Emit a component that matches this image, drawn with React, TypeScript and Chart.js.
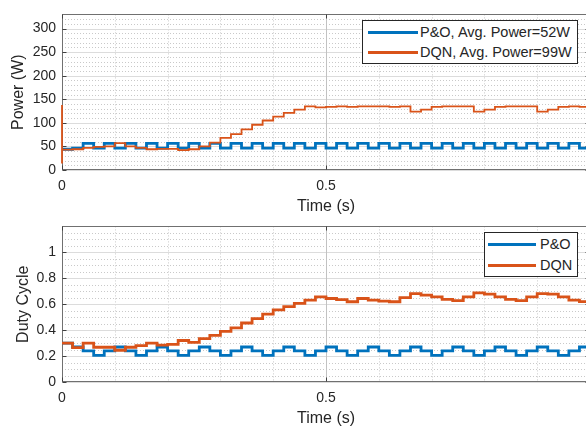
import React, { useEffect, useRef } from "react";
import { Chart, registerables } from "chart.js";

Chart.register(...registerables);

// ---------------- data ----------------
const stepTimes = [0, 0.02, 0.04, 0.06, 0.08, 0.1, 0.12, 0.14, 0.16, 0.18, 0.2, 0.22, 0.24, 0.26, 0.28, 0.3, 0.32, 0.34, 0.36, 0.38, 0.4, 0.42, 0.44, 0.46, 0.48, 0.5, 0.52, 0.54, 0.56, 0.58, 0.6, 0.62, 0.64, 0.66, 0.68, 0.7, 0.72, 0.74, 0.76, 0.78, 0.8, 0.82, 0.84, 0.86, 0.88, 0.9, 0.92, 0.94, 0.96, 0.98, 1.0];

const poPower = [44, 46.5, 56.5, 46.5, 56.5, 46.5, 56.5, 46.5, 56.5, 46.5,
  56.5, 46.5, 56.5, 46.5, 56.5, 46.5, 56.5, 46.5, 56.5, 46.5,
  56.5, 46.5, 56.5, 46.5, 56.5, 46.5, 56.5, 46.5, 56.5, 46.5,
  56.5, 46.5, 56.5, 46.5, 56.5, 46.5, 56.5, 46.5, 56.5, 46.5,
  56.5, 46.5, 56.5, 46.5, 56.5, 46.5, 56.5, 46.5, 56.5, 46.5,
  46.5];

const dqnPowerStartTransient = [14, 138];
const dqnPower = [43, 44, 47, 49, 50, 57, 50, 47, 44, 45,
  45, 42, 44, 50, 58, 68, 76, 86, 96, 105,
  113, 121, 128, 135, 133, 134, 135, 134, 135, 135,
  135, 134, 135, 124, 128, 134, 135, 135, 135, 124,
  128, 134, 135, 135, 135, 124, 128, 134, 135, 134,
  134];

const poDuty = [0.30, 0.27, 0.24, 0.205, 0.24, 0.27, 0.24, 0.205, 0.24, 0.27,
  0.24, 0.205, 0.24, 0.27, 0.24, 0.205, 0.24, 0.27, 0.24, 0.205,
  0.24, 0.27, 0.24, 0.205, 0.24, 0.27, 0.24, 0.205, 0.24, 0.27,
  0.24, 0.205, 0.24, 0.27, 0.24, 0.205, 0.24, 0.27, 0.24, 0.205,
  0.24, 0.27, 0.24, 0.205, 0.24, 0.27, 0.24, 0.205, 0.24, 0.27,
  0.27];

const dqnDuty = [0.30, 0.265, 0.30, 0.268, 0.268, 0.245, 0.268, 0.28, 0.30, 0.285,
  0.29, 0.32, 0.305, 0.335, 0.36, 0.39, 0.417, 0.455, 0.488, 0.523,
  0.556, 0.581, 0.606, 0.632, 0.657, 0.644, 0.635, 0.619, 0.644, 0.632,
  0.624, 0.619, 0.65, 0.682, 0.67, 0.657, 0.637, 0.627, 0.657, 0.687,
  0.677, 0.657, 0.637, 0.627, 0.657, 0.682, 0.677, 0.657, 0.632, 0.62,
  0.62];

const xTickLabels = ["0", "0.5", "1"];
const powerTickLabels = ["0", "50", "100", "150", "200", "250", "300"];
const dutyTickLabels = ["0", "0.2", "0.4", "0.6", "0.8", "1"];
const seriesNames = ["P&O", "DQN"];
const powerLegendLabels = ["P&O, Avg. Power=52W", "DQN, Avg. Power=99W"];
const dutyLegendLabels = ["P&O", "DQN"];

// ---------------- styles ----------------
const BLUE = "#0072BD";
const ORANGE = "#D95319";
const FONT = "'Liberation Sans', Arial, Helvetica, sans-serif";
const TEXT = "#262626";

function pts(times: number[], vals: number[]) {
  return times.map((t, i) => ({ x: t, y: vals[i] }));
}

function minorValues(min: number, max: number, step: number, majors: number[]) {
  const out: number[] = [];
  const n = Math.round((max - min) / step);
  for (let i = 1; i <= n; i++) {
    const v = min + i * step;
    if (v >= max - step * 1e-3) break;
    if (majors.some((m) => Math.abs(m - v) < step * 1e-3)) continue;
    out.push(v);
  }
  return out;
}

const matlabAxes = {
  id: "matlabAxes",
  beforeDatasetsDraw(chart: any, _args: any, opts: any) {
    const { ctx, chartArea: a } = chart;
    const xs = chart.scales.x;
    const ys = chart.scales.y;
    const xMajor = xs.ticks.map((t: any) => t.value);
    const yMajor = ys.ticks.map((t: any) => t.value);
    const xMinor = minorValues(xs.min, xs.max, opts.xMinor, xMajor);
    const yMinor = minorValues(ys.min, ys.max, opts.yMinor, yMajor);
    const px = (v: number) => Math.round(xs.getPixelForValue(v)) + 0.5;
    const py = (v: number) => Math.round(ys.getPixelForValue(v)) + 0.5;
    ctx.save();
    ctx.lineWidth = 1;
    // minor grid
    ctx.setLineDash([1, 2]);
    ctx.strokeStyle = "#c9c9c9";
    ctx.beginPath();
    xMinor.forEach((v) => { const p = px(v); ctx.moveTo(p, a.top); ctx.lineTo(p, a.bottom); });
    yMinor.forEach((v) => { const p = py(v); ctx.moveTo(a.left, p); ctx.lineTo(a.right, p); });
    ctx.stroke();
    // major grid
    ctx.setLineDash([]);
    ctx.strokeStyle = "#dcdcdc";
    ctx.beginPath();
    yMajor.forEach((v: number) => { const p = py(v); ctx.moveTo(a.left, p); ctx.lineTo(a.right, p); });
    ctx.stroke();
    ctx.strokeStyle = "#c2c2c2";
    ctx.beginPath();
    xMajor.forEach((v: number) => { const p = px(v); ctx.moveTo(p, a.top); ctx.lineTo(p, a.bottom); });
    ctx.stroke();
    // box
    ctx.strokeStyle = "#707070";
    const L = Math.round(a.left) + 0.5, R = Math.round(a.right) - 0.5;
    const T = Math.round(a.top) + 0.5, B = Math.round(a.bottom) - 0.5;
    ctx.strokeRect(L, T, R - L, B - T);
    // inward tick marks
    ctx.strokeStyle = "#404040";
    ctx.beginPath();
    xMajor.forEach((v: number) => {
      const p = px(v);
      ctx.moveTo(p, B); ctx.lineTo(p, B - 4);
      ctx.moveTo(p, T); ctx.lineTo(p, T + 4);
    });
    yMajor.forEach((v: number) => {
      const p = py(v);
      ctx.moveTo(L, p); ctx.lineTo(L + 4, p);
      ctx.moveTo(R, p); ctx.lineTo(R - 4, p);
    });
    ctx.stroke();
    ctx.restore();
  },
};

type PlotSpec = {
  datasets: any[];
  yMax: number;
  yStep: number;
  yMinor: number;
  yLabels: string[];
  yTitle: string;
  yTitlePad: number;
  xAxisHeight: number;
  xTitlePadBottom: number;
};

function makeConfig(spec: PlotSpec): any {
  const tickFont = { family: FONT, size: 14 };
  const titleFont = { family: FONT, size: 16 };
  return {
    type: "line",
    data: { datasets: spec.datasets },
    options: {
      animation: false,
      responsive: false,
      devicePixelRatio: 1,
      layout: { padding: { top: 10, right: 30, left: 0, bottom: 0 } },
      plugins: {
        legend: { display: false },
        tooltip: { enabled: false },
        matlabAxes: { xMinor: 0.1, yMinor: spec.yMinor },
      },
      elements: { point: { radius: 0 } },
      scales: {
        x: {
          type: "linear",
          min: 0,
          max: 1,
          grid: { display: false, drawTicks: false },
          border: { display: false },
          ticks: {
            stepSize: 0.5,
            padding: 7.5,
            font: tickFont,
            color: TEXT,
            maxRotation: 0,
            autoSkip: false,
            includeBounds: false,
            callback: (_v: any, i: number) => xTickLabels[i],
          },
          title: {
            display: true,
            text: "Time (s)",
            font: titleFont,
            color: TEXT,
            padding: { top: 0, bottom: spec.xTitlePadBottom },
          },
          afterFit: (s: any) => { s.height = spec.xAxisHeight; },
        },
        y: {
          type: "linear",
          min: 0,
          max: spec.yMax,
          grid: { display: false, drawTicks: false },
          border: { display: false },
          afterBuildTicks: (s: any) => {
            s.ticks = s.ticks.filter((t: any) => t.value <= spec.yStep * (spec.yLabels.length - 1) + 1e-9);
          },
          ticks: {
            stepSize: spec.yStep,
            padding: 6,
            font: tickFont,
            color: TEXT,
            autoSkip: false,
            includeBounds: false,
            callback: (_v: any, i: number) => spec.yLabels[i],
          },
          title: {
            display: true,
            text: spec.yTitle,
            font: titleFont,
            color: TEXT,
            padding: { top: spec.yTitlePad, bottom: 0 },
          },
          afterFit: (s: any) => { s.width = 62; },
        },
      },
    },
    plugins: [matlabAxes],
  };
}

const powerSpec: PlotSpec = {
  datasets: [
    {
      label: seriesNames[0],
      data: pts(stepTimes, poPower),
      borderColor: BLUE,
      borderWidth: 2.8,
      stepped: true,
      fill: false,
      order: 1,
    },
    {
      label: seriesNames[1],
      data: [
        { x: stepTimes[0], y: dqnPowerStartTransient[0] },
        { x: stepTimes[0], y: dqnPowerStartTransient[1] },
        ...pts(stepTimes, dqnPower),
      ],
      borderColor: ORANGE,
      borderWidth: 1.8,
      stepped: true,
      fill: false,
      clip: 4,
      order: 0,
    },
  ],
  yMax: 330,
  yStep: 50,
  yMinor: 10,
  yLabels: powerTickLabels,
  yTitle: "Power (W)",
  yTitlePad: 9.4,
  xAxisHeight: 50,
  xTitlePadBottom: 4.1,
};

const dutySpec: PlotSpec = {
  datasets: [
    {
      label: seriesNames[0],
      data: pts(stepTimes, poDuty),
      borderColor: BLUE,
      borderWidth: 2.8,
      stepped: true,
      fill: false,
      order: 1,
    },
    {
      label: seriesNames[1],
      data: pts(stepTimes, dqnDuty),
      borderColor: ORANGE,
      borderWidth: 2.8,
      stepped: true,
      fill: false,
      order: 0,
    },
  ],
  yMax: 1.2,
  yStep: 0.2,
  yMinor: 0.05,
  yLabels: dutyTickLabels,
  yTitle: "Duty Cycle",
  yTitlePad: 14.4,
  xAxisHeight: 48,
  xTitlePadBottom: 1.4,
};

function PlotCanvas({ top, height, spec }: { top: number; height: number; spec: PlotSpec }) {
  const ref = useRef<HTMLCanvasElement | null>(null);
  useEffect(() => {
    if (!ref.current) return;
    const chart = new Chart(ref.current, makeConfig(spec));
    return () => chart.destroy();
  }, [spec]);
  return (
    <canvas
      ref={ref}
      width={620}
      height={height}
      style={{ position: "absolute", left: 0, top, width: 620, height }}
    />
  );
}

function LegendBox(props: {
  left: number; top: number; width: number; height: number;
  labels: string[]; colors: string[]; rowYs: number[];
  lineX0: number; lineX1: number; textX: number; fontSize: number;
}) {
  const { left, top, width, height, labels, colors, rowYs, lineX0, lineX1, textX, fontSize } = props;
  return (
    <div
      style={{
        position: "absolute", left, top, width, height, boxSizing: "border-box",
        border: "1px solid #262626", background: "#ffffff",
      }}
    >
      {labels.map((lab, i) => (
        <React.Fragment key={i}>
          <div
            style={{
              position: "absolute", left: lineX0 - left - 1,
              top: Math.round(rowYs[i] - 1.5) - top - 1,
              width: lineX1 - lineX0, height: 3, background: colors[i],
            }}
          />
          <span
            style={{
              position: "absolute", left: textX - left - 1, top: rowYs[i] - top - 1,
              transform: "translateY(-50%)", fontFamily: FONT, fontSize, color: TEXT,
              whiteSpace: "nowrap", lineHeight: 1,
            }}
          >
            {lab}
          </span>
        </React.Fragment>
      ))}
    </div>
  );
}

export default function App() {
  return (
    <div
      style={{
        position: "fixed", left: 0, top: 0, width: 586, height: 430,
        overflow: "hidden", background: "#ffffff",
      }}
    >
      <PlotCanvas top={0} height={220} spec={powerSpec} />
      <PlotCanvas top={212} height={218} spec={dutySpec} />
      <LegendBox
        left={362} top={20} width={216} height={44}
        labels={powerLegendLabels} colors={[BLUE, ORANGE]} rowYs={[32, 52]}
        lineX0={368} lineX1={418} textX={420} fontSize={14.5}
      />
      <LegendBox
        left={484} top={232} width={94} height={45}
        labels={dutyLegendLabels} colors={[BLUE, ORANGE]} rowYs={[244, 265]}
        lineX0={488} lineX1={536} textX={540} fontSize={14.5}
      />
    </div>
  );
}
